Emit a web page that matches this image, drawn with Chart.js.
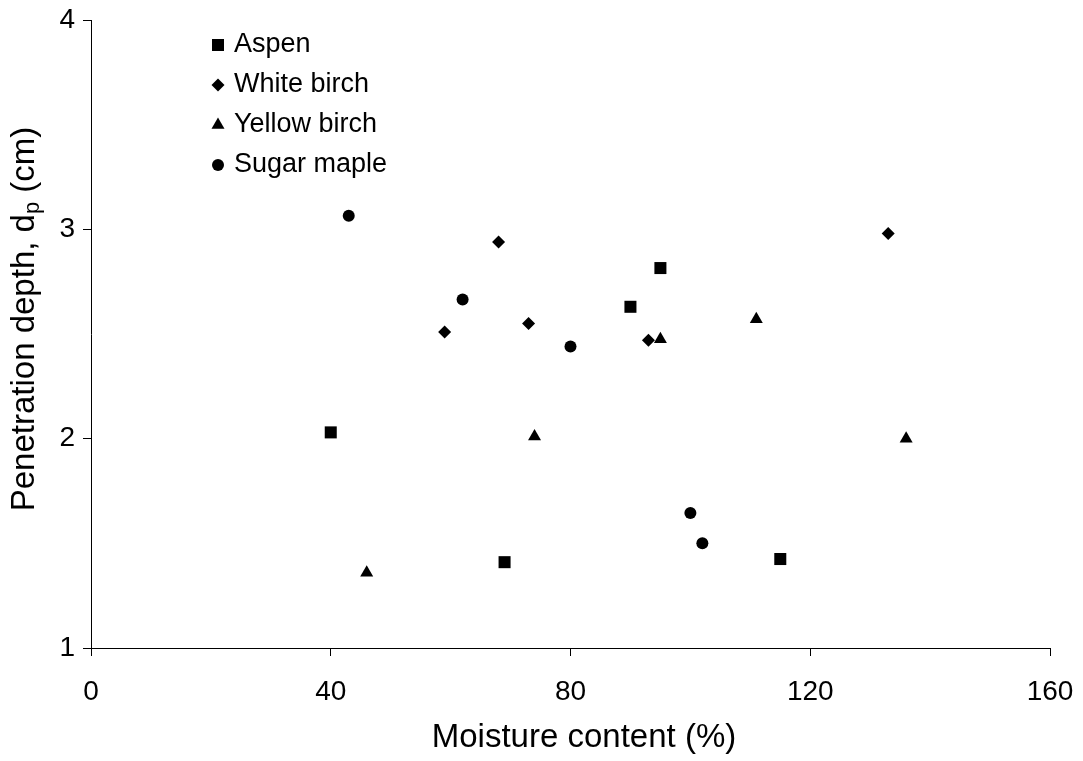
<!DOCTYPE html>
<html>
<head>
<meta charset="utf-8">
<script src="https://cdn.jsdelivr.net/npm/chart.js@4.4.0/dist/chart.umd.min.js"></script>
<style>
  html, body { margin: 0; padding: 0; background: #fff; }
  #wrap { width: 1083px; height: 761px; }
</style>
</head>
<body>
<div id="wrap"><canvas id="chart" width="1083" height="761"></canvas></div>
<script>
// values
const seriesNames = ['Aspen', 'White birch', 'Yellow birch', 'Sugar maple'];
const aspenX = [40, 69, 90, 95, 115];
const aspenY = [2.03, 1.41, 2.63, 2.815, 1.425];
const whiteBirchX = [59, 68, 73, 93, 133];
const whiteBirchY = [2.51, 2.94, 2.55, 2.47, 2.98];
const yellowBirchX = [46, 74, 95, 111, 136];
const yellowBirchY = [1.36, 2.01, 2.475, 2.57, 2.0];
const sugarMapleX = [43, 62, 80, 100, 102];
const sugarMapleY = [3.065, 2.665, 2.44, 1.645, 1.50];
const xTicks = [0, 40, 80, 120, 160];
const yTicks = [1, 2, 3, 4];

const FONT = "'Liberation Sans', Arial, Helvetica, sans-serif";

function pts(xs, ys) {
    return xs.map((x, i) => ({ x: x, y: ys[i] }));
}

function makeSet(label, xs, ys, style, r) {
    return {
        label: label,
        data: pts(xs, ys),
        pointStyle: style,
        pointRadius: r,
        pointHoverRadius: r,
        backgroundColor: '#000',
        borderColor: '#000',
        borderWidth: 0,
        showLine: false
    };
}

// draws a marker the same way for legend items
function drawMarker(ctx, style, x, y, r) {
    ctx.beginPath();
    if (style === 'rect') {
        const s = Math.SQRT1_2 * r;
        ctx.rect(x - s, y - s, 2 * s, 2 * s);
    } else if (style === 'rectRot') {
        ctx.moveTo(x - r, y);
        ctx.lineTo(x, y - r);
        ctx.lineTo(x + r, y);
        ctx.lineTo(x, y + r);
        ctx.closePath();
    } else if (style === 'triangle') {
        ctx.moveTo(x, y - r);
        ctx.lineTo(x + Math.sin(Math.PI / 3) * r, y + r / 2);
        ctx.lineTo(x - Math.sin(Math.PI / 3) * r, y + r / 2);
        ctx.closePath();
    } else {
        ctx.arc(x, y, r, 0, Math.PI * 2);
    }
    ctx.fill();
}

const legendAndTitles = {
    id: 'legendAndTitles',
    afterDraw(chart) {
        const ctx = chart.ctx;
        const area = chart.chartArea;
        ctx.save();
        ctx.fillStyle = '#000';

        // legend, top left inside the plot
        ctx.font = '27px ' + FONT;
        ctx.textBaseline = 'middle';
        ctx.textAlign = 'left';
        chart.data.datasets.forEach((ds, i) => {
            const y = area.top + 25 + i * 40;
            const mx = area.left + 127;
            drawMarker(ctx, ds.pointStyle, mx, y, ds.pointRadius);
            ctx.fillText(ds.label, mx + 16, y);
        });

        const big = '33px ' + FONT;
        const small = '22px ' + FONT;

        // x title
        ctx.font = big;
        ctx.textAlign = 'center';
        ctx.fillText('Moisture content (%)', 584, 738);

        // y title with subscript p
        const p1 = 'Penetration depth, d';
        const p2 = 'p';
        const p3 = ' (cm)';
        ctx.font = big;
        const w1 = ctx.measureText(p1).width;
        const w3 = ctx.measureText(p3).width;
        ctx.font = small;
        const w2 = ctx.measureText(p2).width;
        const total = w1 + w2 + w3;
        ctx.translate(25, 319);
        ctx.rotate(-Math.PI / 2);
        ctx.textAlign = 'left';
        let x = -total / 2;
        ctx.font = big;
        ctx.fillText(p1, x, 0);
        x += w1;
        ctx.font = small;
        ctx.fillText(p2, x, 8);
        x += w2;
        ctx.font = big;
        ctx.fillText(p3, x, 0);
        ctx.restore();
    }
};

const ctx = document.getElementById('chart').getContext('2d');
new Chart(ctx, {
    type: 'scatter',
    data: {
        datasets: [
            makeSet(seriesNames[0], aspenX, aspenY, 'rect', 8.5),
            makeSet(seriesNames[1], whiteBirchX, whiteBirchY, 'rectRot', 6.5),
            makeSet(seriesNames[2], yellowBirchX, yellowBirchY, 'triangle', 7.5),
            makeSet(seriesNames[3], sugarMapleX, sugarMapleY, 'circle', 6)
        ]
    },
    options: {
        responsive: false,
        animation: false,
        layout: { padding: { top: 20, right: 33, left: 0, bottom: 0 } },
        plugins: {
            legend: { display: false },
            tooltip: { enabled: false }
        },
        scales: {
            x: {
                type: 'linear',
                min: 0,
                max: 160,
                afterBuildTicks: s => { s.ticks = xTicks.map(v => ({ value: v })); },
                afterFit: s => {
                    s.height = 113;
                    s.paddingLeft = 0;
                    s.paddingRight = 0;
                },
                ticks: { color: '#000', font: { family: FONT, size: 28 }, padding: 19, maxRotation: 0 },
                grid: { drawOnChartArea: false, drawTicks: true, tickLength: 8, color: '#000', lineWidth: 1 },
                border: { display: true, color: '#000', width: 1 },
                title: { display: false }
            },
            y: {
                type: 'linear',
                min: 1,
                max: 4,
                afterBuildTicks: s => { s.ticks = yTicks.map(v => ({ value: v })); },
                afterFit: s => {
                    s.width = 91;
                    s.paddingTop = 0;
                    s.paddingBottom = 0;
                },
                ticks: { color: '#000', font: { family: FONT, size: 28 }, padding: 8 },
                grid: { drawOnChartArea: false, drawTicks: true, tickLength: 8, color: '#000', lineWidth: 1 },
                border: { display: true, color: '#000', width: 1 },
                title: { display: false }
            }
        }
    },
    plugins: [legendAndTitles]
});
</script>
</body>
</html>
